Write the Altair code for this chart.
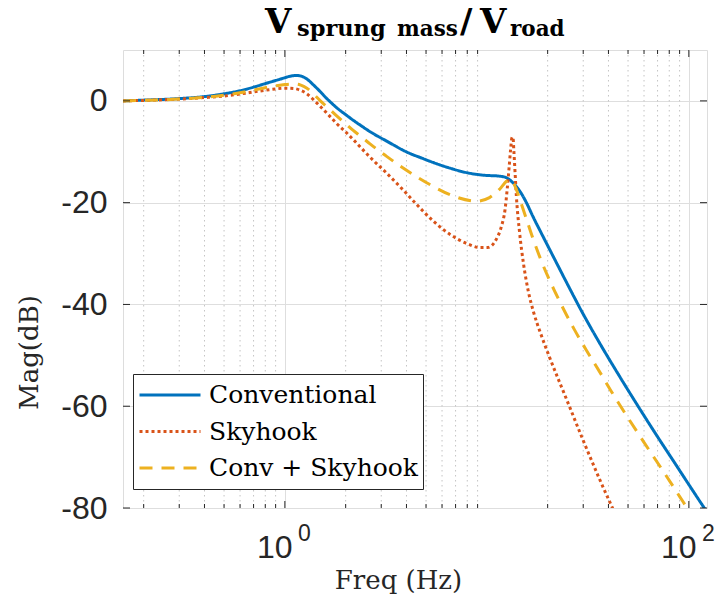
import altair as alt
import pandas as pd

# ---------------- data ----------------
series_names = ["Conventional", "Skyhook", "Conv + Skyhook"]
series_colors = ["#0072BD", "#D95319", "#EDB120"]

freq_conv = [0.158, 0.2, 0.3, 0.4, 0.5, 0.6, 0.7, 0.8, 0.9, 1.0, 1.05, 1.1, 1.15,
             1.2, 1.25, 1.3, 1.38, 1.49, 1.6, 1.7, 1.8, 2.0, 2.18, 2.4, 2.63, 2.9,
             3.19, 3.5, 3.85, 4.2, 4.66, 5.42, 6.55, 7.93, 9.59, 11.6, 12.5, 13.4,
             14.6, 15.7, 16.9, 18.5, 20.4, 22.5, 24.9, 29.9, 36.3, 46.0, 57.1,
             70.0, 83.7, 100.0, 119.0, 123.0]
mag_conv = [0.0, 0.15, 0.45, 0.85, 1.4, 2.0, 2.7, 3.4, 4.0, 4.55, 4.8, 4.95, 5.0,
            4.88, 4.6, 4.15, 3.2, 1.9, 0.6, -0.4, -1.3, -2.7, -3.8, -4.95, -6.0,
            -7.0, -7.9, -8.8, -9.7, -10.4, -11.1, -12.1, -13.2, -14.1, -14.6,
            -14.8, -15.1, -16.0, -17.8, -20.0, -22.7, -25.8, -29.1, -32.4, -35.8,
            -41.8, -47.7, -54.5, -60.5, -66.0, -70.7, -75.4, -79.95, -80.8]

freq_sky = [0.158, 0.2, 0.3, 0.4, 0.5, 0.6, 0.7, 0.8, 0.9, 1.0, 1.1, 1.19, 1.28,
            1.38, 1.49, 1.65, 1.8, 2.0, 2.18, 2.63, 3.19, 3.85, 4.48, 5.42, 6.55,
            7.93, 9.2, 10.1, 11.1, 11.8, 12.3, 12.6, 12.9, 13.1, 13.3, 13.4, 13.5,
            13.6, 13.8, 14.0, 14.5, 15.2, 16.0, 17.0, 18.5, 20.4, 24.9, 29.9,
            36.3, 42.1, 43.0]
mag_sky = [0.0, 0.1, 0.35, 0.65, 0.95, 1.35, 1.75, 2.1, 2.35, 2.5, 2.45, 2.1, 1.45,
           0.3, -1.0, -2.8, -4.4, -6.1, -7.6, -11.0, -14.2, -17.5, -20.3, -23.6,
           -26.2, -28.0, -28.8, -28.8, -27.3, -24.7, -21.4, -17.5, -12.9, -9.7,
           -7.3, -7.1, -7.5, -9.7, -14.2, -18.7, -25.6, -32.1, -37.2, -41.4,
           -45.8, -50.3, -58.8, -66.6, -74.5, -80.2, -81.0]

freq_both = [0.158, 0.2, 0.3, 0.4, 0.5, 0.6, 0.7, 0.8, 0.9, 1.0, 1.1, 1.14, 1.2,
             1.28, 1.38, 1.49, 1.65, 1.8, 2.0, 2.18, 2.4, 2.63, 3.19, 3.85, 4.66,
             5.42, 6.83, 8.9, 10.3, 11.6, 12.5, 13.0, 13.4, 14.0, 14.6, 15.7, 16.9,
             18.5, 20.0, 21.8, 23.4, 27.0, 31.1, 36.0, 42.1, 50.0, 59.3, 75.0,
             90.6, 96.0, 98.0, 99.0]
mag_both = [0.0, 0.1, 0.35, 0.7, 1.1, 1.6, 2.1, 2.6, 2.95, 3.2, 3.3, 3.3, 3.1,
            2.55, 1.45, 0.1, -1.5, -2.9, -4.5, -5.8, -7.1, -8.4, -10.9, -13.2,
            -15.3, -16.8, -18.7, -19.7, -19.0, -17.3, -15.8, -15.4, -15.8, -17.4,
            -19.5, -23.2, -27.0, -31.2, -34.4, -37.6, -40.1, -44.8, -49.0, -53.1,
            -57.6, -62.3, -66.8, -72.9, -77.9, -79.45, -80.0, -80.3]

x_major = [1, 100]
x_major_base = ["10", "10"]
x_major_exp = ["0", "2"]
x_minor = [0.2, 0.3, 0.4, 0.5, 0.6, 0.7, 0.8, 0.9,
           2, 3, 4, 5, 6, 7, 8, 9,
           20, 30, 40, 50, 60, 70, 80, 90]
y_major = [0, -20, -40, -60, -80]

# ---------------- tables ----------------
rows = []
for name, fs, ms in [(series_names[0], freq_conv, mag_conv),
                     (series_names[1], freq_sky, mag_sky),
                     (series_names[2], freq_both, mag_both)]:
    for f, m in zip(fs, ms):
        rows.append({"f": f, "mag": m, "series": name})
df = pd.DataFrame(rows)
df_xmaj = pd.DataFrame({"f": x_major, "base": x_major_base, "exp": x_major_exp})
df_xmin = pd.DataFrame({"f": x_minor})
df_ymaj = pd.DataFrame({"mag": y_major})

W, H = 584, 458
INK = "#262626"
xscale = alt.Scale(type="log", domain=[0.158, 123], nice=False)
yscale = alt.Scale(domain=[-80, 10], nice=False)
color_scale = alt.Scale(domain=series_names, range=series_colors)
dash_scale = alt.Scale(domain=series_names, range=[[1, 0], [3, 3], [13, 9]])

legend = alt.Legend(title=None, orient="none", legendX=10, legendY=324,
                    fillColor="white", strokeColor=INK, padding=5,
                    symbolType="stroke", symbolSize=3721, symbolStrokeWidth=3,
                    labelFont="DejaVu Serif", labelFontSize=25, labelColor="black",
                    labelOffset=7, clipHeight=32, rowPadding=4.5, labelLimit=500)

x_axis = alt.Axis(values=x_major, grid=True, gridColor="#dedede", labels=False,
                  ticks=False, domain=False, title="Freq (Hz)",
                  titleFont="DejaVu Serif", titleFontSize=26, titleFontWeight="normal",
                  titleColor=INK, titleX=275, titleY=72, titleBaseline="middle")
y_axis = alt.Axis(values=y_major, grid=True, gridColor="#dedede", ticks=False,
                  domain=False, labelFont="Liberation Sans", labelFontSize=32,
                  labelColor=INK, labelPadding=16, labelExpr="'' + datum.value",
                  title="Mag(dB)",
                  titleFont="DejaVu Serif", titleFontSize=26, titleFontWeight="normal",
                  titleColor=INK, titleX=-94, titleY=302, titleBaseline="middle")

X = lambda: alt.X("f:Q", scale=xscale, axis=x_axis)
Y = lambda: alt.Y("mag:Q", scale=yscale, axis=y_axis)

minor_grid = alt.Chart(df_xmin).mark_rule(color="#c4c4c4", strokeWidth=1,
                                          strokeDash=[1.5, 3.5]).encode(x=X())


def series_layer(name):
    return alt.Chart(df).transform_filter(alt.datum.series == name).mark_line(
        strokeWidth=3, clip=True, interpolate="monotone").encode(
        x=X(), y=Y(),
        color=alt.Color("series:N", scale=color_scale, legend=legend),
        strokeDash=alt.StrokeDash("series:N", scale=dash_scale, legend=legend),
        order=alt.Order("f:Q"),
    )


lines = [series_layer(n) for n in series_names]


# inward ticks
def yticks(x0, x1):
    return alt.Chart(df_ymaj).mark_rule(color=INK, strokeWidth=1).encode(
        y=Y(), x=alt.value(x0), x2=alt.value(x1))


def xticks(data, y0, y1):
    return alt.Chart(data).mark_rule(color=INK, strokeWidth=1).encode(
        x=X(), y=alt.value(y0), y2=alt.value(y1))


ticks = [yticks(0, 7), yticks(W - 7, W),
         xticks(df_xmaj, H - 7, H), xticks(df_xmaj, 0, 7),
         xticks(df_xmin, H - 4, H), xticks(df_xmin, 0, 4)]

# x tick labels 10^n
lab_base = alt.Chart(df_xmaj).mark_text(font="Liberation Sans", fontSize=32,
                                        color=INK, dx=-10, baseline="middle",
                                        align="center").encode(
    x=X(), y=alt.value(H + 40), text="base:N")
lab_exp = alt.Chart(df_xmaj).mark_text(font="Liberation Sans", fontSize=23,
                                       color=INK, dx=19.5, baseline="middle",
                                       align="center").encode(
    x=X(), y=alt.value(H + 26), text="exp:N")


# title  V_{sprung mass} / V_{road}
def ttext(s, x, y, size):
    return alt.Chart(pd.DataFrame({"t": [s]})).mark_text(
        font="DejaVu Serif", fontWeight="bold", fontSize=size, color="black",
        align="left", baseline="alphabetic").encode(
        x=alt.value(x), y=alt.value(y), text="t:N")


title_parts = [ttext("V", 142, -17, 34), ttext("sprung", 174, -14, 22.5),
               ttext("mass", 274, -14, 21.5), ttext("/", 337, -17, 34),
               ttext("V", 357, -17, 34), ttext("road", 387, -14, 21.5)]

chart = alt.layer(minor_grid, *lines, *ticks, lab_base, lab_exp, *title_parts).properties(
    width=W, height=H,
    padding={"left": 123, "top": 50, "right": 11, "bottom": 102},
    autosize=alt.AutoSizeParams(type="none"),
).configure_view(stroke=INK, strokeWidth=1).configure(background="white")

chart.save("out.html", embed_options={"renderer": "svg", "actions": False})
